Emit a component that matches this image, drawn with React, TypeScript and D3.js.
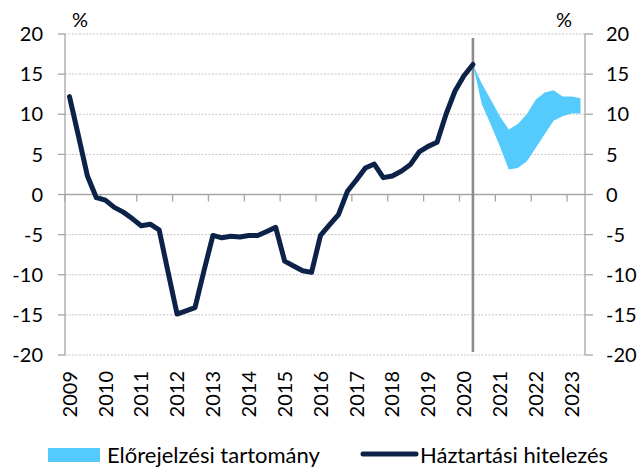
import React, { useEffect, useRef } from 'react';
import * as d3 from 'd3';

// years on the category axis (quarterly data, 2009Q1 .. 2023Q2)
const years = [2009, 2010, 2011, 2012, 2013, 2014, 2015, 2016, 2017, 2018, 2019, 2020, 2021, 2022, 2023];
const quarters = years.flatMap(y => [1, 2, 3, 4].map(q => `${y}Q${q}`)).slice(0, 58);

// household lending growth, 2009Q1 .. 2020Q2
const household = [
  12.2, 7.3, 2.3, -0.4, -0.7, -1.6, -2.2, -3.0, -3.9, -3.7, -4.4, -9.7,
  -14.9, -14.5, -14.1, -9.5, -5.1, -5.4, -5.2, -5.3, -5.1, -5.1, -4.6, -4.1,
  -8.3, -8.9, -9.5, -9.7, -5.1, -3.8, -2.5, 0.4, 1.8, 3.3, 3.8, 2.1,
  2.3, 2.9, 3.7, 5.3, 6.0, 6.5, 10.0, 12.9, 14.8, 16.2,
];

// forecast range, 2020Q2 .. 2023Q2
const bandLow = [16.2, 11.2, 8.7, 6.0, 3.1, 3.3, 4.1, 5.8, 7.5, 9.2, 9.75, 10.1, 10.1];
const bandHigh = [16.2, 13.8, 11.8, 9.75, 8.1, 8.8, 10.0, 11.8, 12.7, 13.0, 12.2, 12.2, 12.0];

const yTicks = [20, 15, 10, 5, 0, -5, -10, -15, -20];

const FONT = 'Lato, "Open Sans", sans-serif';

const App: React.FC = () => {
  const svgRef = useRef<SVGSVGElement>(null);

  useEffect(() => {
    if (!svgRef.current) return;
    const svg = d3.select(svgRef.current);
    svg.selectAll('*').remove();

    const left = 65, right = 585, top = 34, bottom = 355;
    const x = d3.scaleBand<string>().domain(quarters).range([left, right]);
    const cx = (q: string) => (x(q) ?? 0) + x.bandwidth() / 2;
    const y = d3.scaleLinear().domain([-20, 20]).range([bottom, top]);

    // gridlines
    svg.append('g').selectAll('line').data(yTicks.filter(t => t !== 0)).enter().append('line')
      .attr('x1', left).attr('x2', right).attr('y1', d => y(d)).attr('y2', d => y(d))
      .attr('stroke', '#c4c4c4').attr('stroke-width', 1).attr('stroke-dasharray', '2,1.5');

    // zero line with year ticks
    svg.append('line').attr('x1', left).attr('x2', right).attr('y1', y(0)).attr('y2', y(0))
      .attr('stroke', '#a6a6a6').attr('stroke-width', 1.3);
    const firstQ = quarters.filter(q => q.endsWith('Q1'));
    svg.append('g').selectAll('line').data(firstQ).enter().append('line')
      .attr('x1', d => x(d) ?? 0).attr('x2', d => x(d) ?? 0)
      .attr('y1', y(0)).attr('y2', y(0) + 7)
      .attr('stroke', '#a6a6a6').attr('stroke-width', 1.3);

    // left and right axes
    const axisG = svg.append('g').attr('font-family', FONT).attr('font-size', 20).attr('fill', '#000');
    axisG.append('line').attr('x1', left).attr('x2', left).attr('y1', top).attr('y2', bottom)
      .attr('stroke', '#a6a6a6').attr('stroke-width', 1.3);
    axisG.append('line').attr('x1', right).attr('x2', right).attr('y1', top).attr('y2', bottom)
      .attr('stroke', '#a6a6a6').attr('stroke-width', 1.3);
    axisG.selectAll('.tl').data(yTicks).enter().append('line')
      .attr('x1', left - 7).attr('x2', left).attr('y1', d => y(d)).attr('y2', d => y(d))
      .attr('stroke', '#a6a6a6').attr('stroke-width', 1.3);
    axisG.selectAll('.tr').data(yTicks).enter().append('line')
      .attr('x1', right).attr('x2', right + 8).attr('y1', d => y(d)).attr('y2', d => y(d))
      .attr('stroke', '#a6a6a6').attr('stroke-width', 1.3);
    axisG.selectAll('.ll').data(yTicks).enter().append('text')
      .attr('x', 43).attr('y', d => y(d)).attr('dy', '0.36em').attr('text-anchor', 'end')
      .text(d => String(d));
    axisG.selectAll('.rl').data(yTicks).enter().append('text')
      .attr('x', 606).attr('y', d => y(d)).attr('dy', '0.36em').attr('text-anchor', 'start')
      .text(d => String(d));
    axisG.append('text').attr('x', 80).attr('y', 27).attr('text-anchor', 'middle').text('%');
    axisG.append('text').attr('x', 564).attr('y', 27).attr('text-anchor', 'middle').text('%');

    // year labels, rotated
    axisG.selectAll('.yl').data(firstQ).enter().append('text')
      .attr('transform', d => `translate(${cx(d)},371) rotate(-90)`)
      .attr('dy', '0.36em').attr('text-anchor', 'end')
      .text(d => d.slice(0, 4));

    // forecast band
    const bandQ = quarters.slice(household.length - 1);
    const area = d3.area<number>()
      .x((_, i) => cx(bandQ[i]))
      .y0((_, i) => y(bandLow[i]))
      .y1((_, i) => y(bandHigh[i]));
    svg.append('path').datum(bandLow).attr('d', area).attr('fill', '#55cbfd');

    // forecast start marker
    const lastQ = quarters[household.length - 1];
    svg.append('line').attr('x1', cx(lastQ)).attr('x2', cx(lastQ)).attr('y1', 38).attr('y2', 352)
      .attr('stroke', '#8c8c8c').attr('stroke-width', 2.6);

    // household lending line
    const line = d3.line<number>().x((_, i) => cx(quarters[i])).y(d => y(d));
    svg.append('path').datum(household).attr('d', line)
      .attr('fill', 'none').attr('stroke', '#0c2248').attr('stroke-width', 5)
      .attr('stroke-linejoin', 'round').attr('stroke-linecap', 'round');

    // legend
    const lg = svg.append('g').attr('font-family', FONT).attr('font-size', 22).attr('fill', '#000');
    lg.append('rect').attr('x', 48).attr('y', 448).attr('width', 52).attr('height', 14).attr('fill', '#55cbfd');
    lg.append('text').attr('x', 107).attr('y', 455).attr('dy', '0.36em').text('Előrejelzési tartomány');
    lg.append('line').attr('x1', 363).attr('x2', 416).attr('y1', 454).attr('y2', 454)
      .attr('stroke', '#0c2248').attr('stroke-width', 5).attr('stroke-linecap', 'round');
    lg.append('text').attr('x', 420).attr('y', 455).attr('dy', '0.36em').text('Háztartási hitelezés');
  }, []);

  return (
    <div style={{ position: 'fixed', left: 0, top: 0, width: 640, height: 468, background: '#fff' }}>
      <svg ref={svgRef} width={640} height={468} style={{ display: 'block' }} />
    </div>
  );
};

export default App;
